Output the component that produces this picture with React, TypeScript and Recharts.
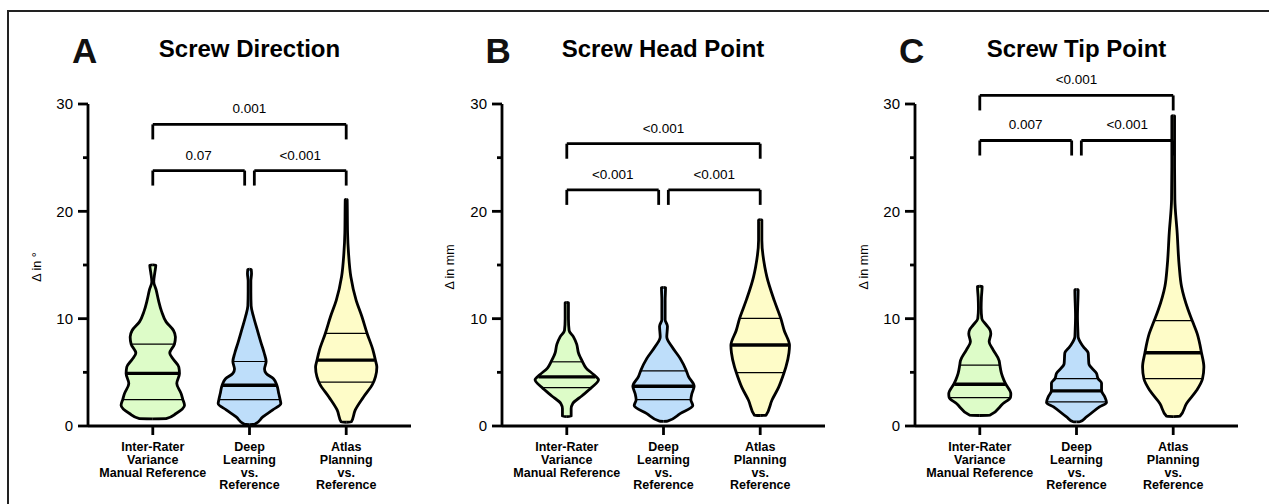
import React from "react";
import { ComposedChart, Area, Line, XAxis, YAxis, ReferenceLine } from "recharts";

const categories = [
  ["Inter-Rater", "Variance", "Manual Reference"],
  ["Deep", "Learning", "vs.", "Reference"],
  ["Atlas", "Planning", "vs.", "Reference"],
];
const positions = [1, 2, 3];
const fills = ["#ddfcc8", "#bedefa", "#fefcc8"];
const yTicks = [0, 5, 10, 15, 20, 25, 30];

// violin outlines: [value, half width in category units]
const directionInterRater = [
  [0.69, 0.138], [1.16, 0.241], [1.93, 0.328], [2.49, 0.31], [3.02, 0.293], [3.96, 0.248],
  [4.89, 0.276], [5.5, 0.269], [6.2, 0.214], [6.8, 0.175], [7.63, 0.224], [8.3, 0.234],
  [8.9, 0.214], [9.7, 0.138], [10.7, 0.09], [11.7, 0.059], [12.7, 0.034], [13.45, 0.01],
  [14.3, 0.021], [15.0, 0.031],
];
const directionDeepLearning = [
  [0.15, 0.052], [0.85, 0.138], [1.5, 0.241], [2.1, 0.324], [2.45, 0.317], [3.0, 0.303],
  [3.8, 0.283], [4.4, 0.248], [4.9, 0.172], [5.3, 0.155], [6.0, 0.172], [6.8, 0.152],
  [7.7, 0.121], [9.1, 0.076], [10.2, 0.041], [11.2, 0.017], [12.5, 0.014], [13.5, 0.014],
  [14.2, 0.021], [14.6, 0.017],
];
const directionAtlas = [
  [0.37, 0.052], [1.47, 0.093], [2.7, 0.179], [3.96, 0.276], [4.6, 0.303], [5.5, 0.317],
  [6.1, 0.303], [7.1, 0.276], [8.6, 0.217], [10.2, 0.162], [11.7, 0.103], [13.9, 0.048],
  [16.1, 0.024], [18.0, 0.014], [21.1, 0.01],
];
const headInterRater = [
  [0.9, 0.045], [1.6, 0.045], [2.1, 0.062], [2.8, 0.155], [3.6, 0.259], [4.3, 0.328],
  [4.8, 0.276], [5.4, 0.2], [6.0, 0.162], [6.8, 0.121], [7.6, 0.103], [8.3, 0.069],
  [8.9, 0.024], [10.0, 0.017], [11.0, 0.017], [11.5, 0.017],
];
const headDeepLearning = [
  [0.45, 0.041], [1.15, 0.172], [1.9, 0.303], [2.45, 0.283], [3.0, 0.293], [3.7, 0.317],
  [4.6, 0.259], [5.2, 0.234], [6.3, 0.172], [7.4, 0.086], [8.3, 0.034], [9.3, 0.041],
  [9.9, 0.017], [11.7, 0.017], [12.9, 0.021],
];
const headAtlas = [
  [1.0, 0.059], [2.4, 0.121], [3.6, 0.19], [5.0, 0.248], [5.5, 0.266], [6.8, 0.297],
  [7.5, 0.303], [8.9, 0.248], [10.0, 0.214], [11.7, 0.145], [13.9, 0.069], [14.8, 0.048],
  [17.3, 0.017], [19.2, 0.017],
];
const tipInterRater = [
  [1.0, 0.103], [2.1, 0.241], [2.65, 0.317], [3.0, 0.321], [3.9, 0.269], [4.3, 0.248],
  [4.9, 0.224], [5.7, 0.207], [6.1, 0.2], [7.1, 0.138], [7.85, 0.097], [8.6, 0.114],
  [9.0, 0.103], [9.4, 0.069], [10.0, 0.021], [11.0, 0.014], [12.0, 0.017], [13.0, 0.024],
];
const tipDeepLearning = [
  [0.4, 0.034], [0.85, 0.103], [1.8, 0.241], [2.2, 0.31], [2.7, 0.293], [3.3, 0.259],
  [4.0, 0.259], [4.4, 0.224], [4.9, 0.207], [5.8, 0.128], [6.8, 0.121], [7.4, 0.069],
  [8.3, 0.017], [8.9, 0.014], [10.2, 0.01], [12.7, 0.017],
];
const tipAtlas = [
  [0.9, 0.069], [2.1, 0.138], [3.3, 0.241], [4.4, 0.303], [5.5, 0.317], [6.8, 0.293],
  [8.6, 0.248], [9.8, 0.197], [10.8, 0.155], [13.0, 0.086], [14.9, 0.062], [18.0, 0.041],
  [21.1, 0.017], [24.2, 0.014], [28.9, 0.014],
];

// [Q1, median, Q3] per group
const directionQuartiles = [[2.45, 4.9, 7.63], [2.46, 3.8, 6.01], [4.08, 6.14, 8.63]];
const headQuartiles = [[3.58, 4.58, 5.98], [2.46, 3.71, 5.14], [4.98, 7.54, 10.03]];
const tipQuartiles = [[2.65, 3.89, 5.67], [2.24, 3.27, 4.42], [4.42, 6.82, 9.81]];

// p values: [1 vs 2, 2 vs 3, 1 vs 3]
const directionP = ["0.07", "<0.001", "0.001"];
const headP = ["<0.001", "<0.001", "<0.001"];
const tipP = ["0.007", "<0.001", "<0.001"];
// bracket heights: [pairwise, overall]
const directionBrackets = [23.8, 28.1];
const headBrackets = [22.0, 26.3];
const tipBrackets = [26.6, 30.8];

const panels = [
  { letter: "A", title: "Screw Direction", unit: "Δ in °", violins: [directionInterRater, directionDeepLearning, directionAtlas], quartiles: directionQuartiles, p: directionP, brackets: directionBrackets },
  { letter: "B", title: "Screw Head Point", unit: "Δ in mm", violins: [headInterRater, headDeepLearning, headAtlas], quartiles: headQuartiles, p: headP, brackets: headBrackets },
  { letter: "C", title: "Screw Tip Point", unit: "Δ in mm", violins: [tipInterRater, tipDeepLearning, tipAtlas], quartiles: tipQuartiles, p: tipP, brackets: tipBrackets },
];

const FONT = "'Liberation Sans', Arial, sans-serif";
const CHART_W = 413;
const CHART_H = 488;
const AXIS_W = 80;
const PLOT_TOP = 96;
const panelLeft = [8, 421.5, 835];
const LEG = 1.4;
const GAP = 0.05;
const STROKE = 2.8;

const violinRows = (profile: number[][], c: number) => {
  const rows = [{ y: profile[0][0] - 0.02, range: [c, c] }];
  profile.forEach(([y, w]) => rows.push({ y, range: [c - w, c + w] }));
  rows.push({ y: profile[profile.length - 1][0] + 0.02, range: [c, c] });
  return rows;
};

const halfWidthAt = (profile: number[][], v: number) => {
  for (let i = 1; i < profile.length; i++) {
    const [y0, w0] = profile[i - 1];
    const [y1, w1] = profile[i];
    if (v >= y0 && v <= y1) return w0 + ((w1 - w0) * (v - y0)) / (y1 - y0);
  }
  return 0;
};

const CategoryTick = (props: any) => {
  const { x, y, payload } = props;
  const lines = categories[positions.indexOf(payload.value)] || [];
  return (
    <g>
      <line x1={x} x2={x} y1={y} y2={y + 9} stroke="#000" strokeWidth={STROKE} />
      <text x={x} y={y + 25} textAnchor="middle" fontSize={12.5} fontWeight="bold" fill="#000">
        {lines.map((l, i) => (
          <tspan key={i} x={x} dy={i === 0 ? 0 : 12.8}>{l}</tspan>
        ))}
      </text>
    </g>
  );
};

const ValueTick = (props: any) => {
  const { x, y, payload } = props;
  const major = payload.value % 10 === 0;
  return (
    <g>
      <line x1={x - (major ? 10 : 5)} x2={x} y1={y} y2={y} stroke="#000" strokeWidth={STROKE} />
      {major && (
        <text x={x - 15} y={y} dy={5.4} textAnchor="end" fontSize={15} fill="#000">{payload.value}</text>
      )}
    </g>
  );
};

const Panel = ({ panel }: { panel: (typeof panels)[number] }) => {
  const [low, high] = panel.brackets;
  const brackets = [
    { from: positions[0], to: positions[1] - GAP, level: low, p: panel.p[0] },
    { from: positions[1] + GAP, to: positions[2], level: low, p: panel.p[1] },
    { from: positions[0], to: positions[2], level: high, p: panel.p[2] },
  ];
  return (
    <ComposedChart layout="vertical" width={CHART_W} height={CHART_H} margin={{ top: PLOT_TOP, right: 10, bottom: 0, left: 0 }}>
      <XAxis
        type="number"
        domain={[0.33, 3.67]}
        allowDataOverflow
        ticks={positions}
        interval={0}
        tickSize={0}
        tickMargin={0}
        tickLine={false}
        tick={<CategoryTick />}
        axisLine={{ stroke: "#000", strokeWidth: STROKE }}
        height={70}
      />
      <YAxis
        type="number"
        dataKey="y"
        domain={[0, 30]}
        allowDataOverflow
        reversed
        ticks={yTicks}
        interval={0}
        tickSize={0}
        tickMargin={0}
        tickLine={false}
        tick={<ValueTick />}
        axisLine={{ stroke: "#000", strokeWidth: STROKE }}
        width={AXIS_W}
      />
      {panel.violins.map((v, i) => (
        <Area
          key={`v${i}`}
          data={violinRows(v, positions[i])}
          dataKey="range"
          type="monotone"
          fill={fills[i]}
          fillOpacity={1}
          stroke="#000"
          strokeWidth={STROKE}
          isAnimationActive={false}
          dot={false}
          activeDot={false}
        />
      ))}
      {panel.violins.flatMap((v, i) =>
        panel.quartiles[i].map((q, k) => {
          const w = halfWidthAt(v, q) * 0.98;
          return (
            <Line
              key={`q${i}-${k}`}
              data={[{ y: q, x: positions[i] - w }, { y: q, x: positions[i] + w }]}
              dataKey="x"
              type="linear"
              stroke="#000"
              strokeWidth={k === 1 ? 3.4 : 1.2}
              dot={false}
              activeDot={false}
              isAnimationActive={false}
            />
          );
        })
      )}
      {brackets.flatMap((b, i) => [
        <ReferenceLine key={`bl${i}`} segment={[{ x: b.from, y: b.level - LEG }, { x: b.from, y: b.level }]} stroke="#000" strokeWidth={STROKE} ifOverflow="visible" />,
        <ReferenceLine
          key={`bh${i}`}
          segment={[{ x: b.from, y: b.level }, { x: b.to, y: b.level }]}
          stroke="#000"
          strokeWidth={STROKE}
          ifOverflow="visible"
          label={{ value: b.p, position: "top", offset: 11, fontSize: 13.5, fill: "#000" }}
        />,
        <ReferenceLine key={`br${i}`} segment={[{ x: b.to, y: b.level }, { x: b.to, y: b.level - LEG }]} stroke="#000" strokeWidth={STROKE} ifOverflow="visible" />,
      ])}
    </ComposedChart>
  );
};

export default function App() {
  const plotW = CHART_W - AXIS_W - 10;
  const catX = (left: number) => left + AXIS_W + ((2 - 0.33) / 3.34) * plotW;
  return (
    <div style={{ position: "absolute", left: 0, top: 0, width: 1269, height: 504, overflow: "hidden", background: "#fff", fontFamily: FONT }}>
      <div style={{ position: "absolute", left: 7, top: 10, width: 1300, height: 600, borderTop: "2px solid #222", borderLeft: "2px solid #222" }} />
      {panels.map((p, i) => (
        <div key={p.letter} style={{ position: "absolute", left: panelLeft[i], top: 8 }}>
          <Panel panel={p} />
        </div>
      ))}
      <svg width={1269} height={504} style={{ position: "absolute", left: 0, top: 0, pointerEvents: "none" }}>
        {panels.map((p, i) => {
          const axisX = panelLeft[i] + AXIS_W;
          return (
            <g key={p.letter}>
              <text x={axisX - 16} y={62.7} fontSize={35} fontWeight="bold" fill="#111">{p.letter}</text>
              <text x={catX(panelLeft[i])} y={56.7} textAnchor="middle" fontSize={24} fontWeight="bold" fill="#000">{p.title}</text>
              <text transform={`translate(${axisX - 51.5}, 267) rotate(-90)`} textAnchor="middle" dominantBaseline="central" fontSize={12.5} fill="#000">{p.unit}</text>
            </g>
          );
        })}
      </svg>
    </div>
  );
}
